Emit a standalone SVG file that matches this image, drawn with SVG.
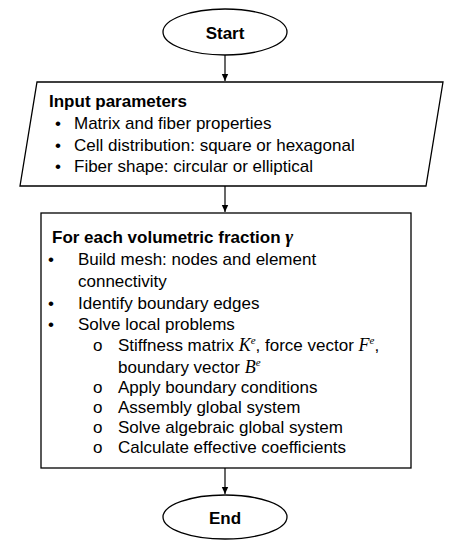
<svg xmlns="http://www.w3.org/2000/svg" width="450" height="550" viewBox="0 0 450 550">
<style>
.shape{fill:#fff;stroke:#000;stroke-width:1.3}
.conn{stroke:#000;stroke-width:1.2;fill:none}
text{font-family:"Liberation Sans",Arial,sans-serif;font-size:17px;fill:#000}
.b{font-weight:bold}
.m{font-family:"Liberation Serif","Times New Roman",serif;font-style:italic}
.sup{font-size:11px}
</style>
<defs>
<marker id="arr" markerWidth="8" markerHeight="8" refX="7" refY="4" orient="auto" markerUnits="userSpaceOnUse">
<path d="M0,0.8 L7,4 L0,7.2 Z" fill="#000"/>
</marker>
</defs>
<rect width="450" height="550" fill="#fff"/>
<g id="connectors">
<line class="conn" x1="225" y1="55" x2="225" y2="81" marker-end="url(#arr)"/>
<line class="conn" x1="225" y1="186" x2="225" y2="212" marker-end="url(#arr)"/>
<line class="conn" x1="225" y1="468" x2="225" y2="494" marker-end="url(#arr)"/>
</g>
<g id="start">
<ellipse class="shape" cx="225" cy="32" rx="62" ry="23"/>
<text class="b" x="225" y="39" text-anchor="middle" font-size="18">Start</text>
</g>
<g id="input">
<polygon class="shape" points="37,82 443,82 426,186 20,186"/>
<text class="b" x="49" y="107" font-size="18">Input parameters</text>
<text x="55" y="129">•</text><text x="74" y="129">Matrix and fiber properties</text>
<text x="55" y="151">•</text><text x="74" y="151">Cell distribution: square or hexagonal</text>
<text x="55" y="172">•</text><text x="74" y="172">Fiber shape: circular or elliptical</text>
</g>
<g id="process">
<rect class="shape" x="41" y="213" width="370" height="255"/>
<text class="b" x="52" y="243" font-size="16">For each volumetric fraction <tspan class="m" font-size="19">γ</tspan></text>
<text x="48" y="265">•</text><text x="78" y="265">Build mesh: nodes and element</text>
<text x="78" y="287">connectivity</text>
<text x="48" y="309">•</text><text x="78" y="309">Identify boundary edges</text>
<text x="48" y="330">•</text><text x="78" y="330">Solve local problems</text>
<text x="93" y="351" font-size="14">o</text>
<text x="118" y="351">Stiffness matrix <tspan class="m" font-size="18">K</tspan><tspan class="m sup" dy="-7">e</tspan><tspan dy="7">, force vector </tspan><tspan class="m" font-size="18">F</tspan><tspan class="m sup" dy="-7">e</tspan><tspan dy="7">,</tspan></text>
<text x="118" y="373">boundary vector <tspan class="m" font-size="18">B</tspan><tspan class="m sup" dy="-7">e</tspan></text>
<text x="93" y="393" font-size="14">o</text><text x="118" y="393">Apply boundary conditions</text>
<text x="93" y="413" font-size="14">o</text><text x="118" y="413">Assembly global system</text>
<text x="93" y="433" font-size="14">o</text><text x="118" y="433">Solve algebraic global system</text>
<text x="93" y="453" font-size="14">o</text><text x="118" y="453">Calculate effective coefficients</text>
</g>
<g id="end">
<ellipse class="shape" cx="225" cy="517" rx="62" ry="22"/>
<text class="b" x="225" y="524" text-anchor="middle" font-size="18">End</text>
</g>
</svg>
